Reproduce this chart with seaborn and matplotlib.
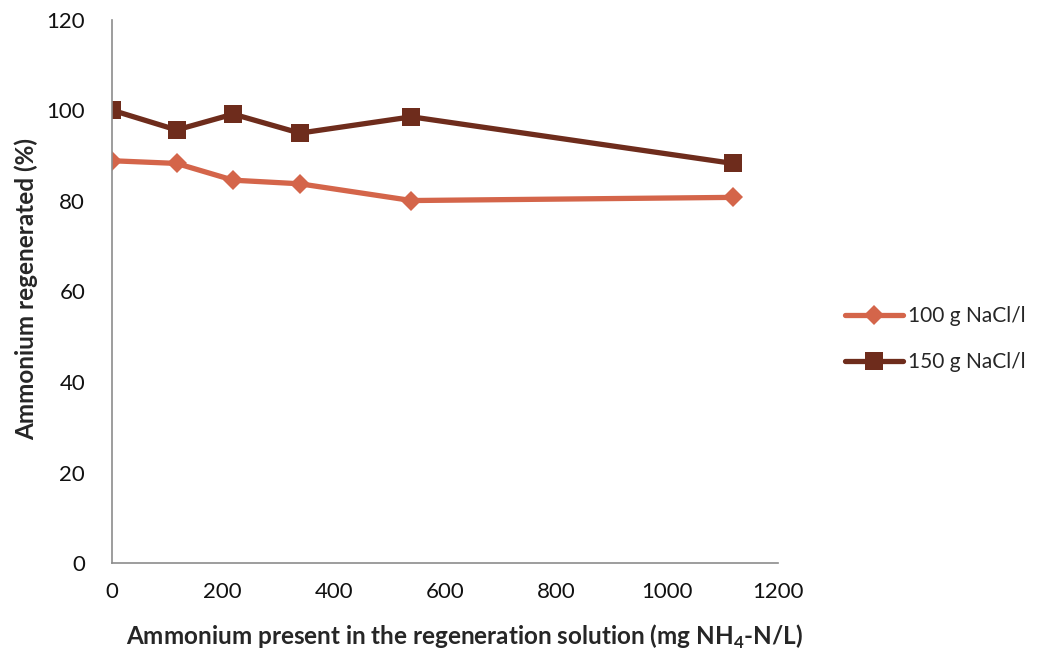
import matplotlib
matplotlib.use("Agg")
import matplotlib.pyplot as plt
import seaborn as sns
import pandas as pd

# Ammonium concentration in the regeneration solution (mg NH4-N/L)
ammonium_mg = [0, 117, 219, 339, 540, 1119]
# Ammonium regenerated (%) for each brine strength
regen_100 = [88.9, 88.3, 84.6, 83.8, 80.1, 80.8]
regen_150 = [100.1, 95.7, 99.2, 95.0, 98.6, 88.3]
series_names = ["100 g NaCl/l", "150 g NaCl/l"]
x_ticks = [0, 200, 400, 600, 800, 1000, 1200]
y_ticks = [0, 20, 40, 60, 80, 100, 120]

colors = {"100 g NaCl/l": "#D4654A", "150 g NaCl/l": "#6E2C1C"}
markers = {"100 g NaCl/l": "D", "150 g NaCl/l": "s"}
msizes = {"100 g NaCl/l": 10.5, "150 g NaCl/l": 13.5}

sns.set_theme(style="white")
plt.rcParams["font.family"] = ["Lato", "DejaVu Sans"]
plt.rcParams["mathtext.fontset"] = "custom"
plt.rcParams["mathtext.rm"] = "Lato"
plt.rcParams["mathtext.bf"] = "Lato:bold"

df = pd.concat([
    pd.DataFrame({"x": ammonium_mg, "y": regen_100, "series": series_names[0]}),
    pd.DataFrame({"x": ammonium_mg, "y": regen_150, "series": series_names[1]}),
])

fig = plt.figure(figsize=(10.38, 6.53), dpi=100)
ax = fig.add_axes([0.1075, 0.1378, 0.642, 0.8316])

for name in series_names:
    sub = df[df["series"] == name]
    sns.lineplot(data=sub, x="x", y="y", ax=ax, color=colors[name],
                 marker=markers[name], markersize=msizes[name],
                 markeredgewidth=0, linewidth=3.8, label=name)

ax.set_xlim(0, 1200)
ax.set_ylim(0, 120)
ax.set_xticks(x_ticks)
ax.set_yticks(y_ticks)
ax.tick_params(axis="both", labelsize=16, length=0, colors="#111111")
ax.tick_params(axis="y", pad=19)
ax.tick_params(axis="x", pad=14)

for side in ["top", "right"]:
    ax.spines[side].set_visible(False)
for side in ["left", "bottom"]:
    ax.spines[side].set_color("#8C8C8C")
    ax.spines[side].set_linewidth(1.2)

ax.set_xlabel(r"Ammonium present in the regeneration solution (mg NH$_\mathbf{4}$-N/L)",
              fontsize=17.5, fontweight="bold")
ax.set_ylabel("Ammonium regenerated (%)", fontsize=17.5, fontweight="bold")
ax.xaxis.set_label_coords(0.53, -0.136)
ax.yaxis.set_label_coords(-0.128, 0.505)
ax.xaxis.label.set_va("center")
ax.yaxis.label.set_va("center")

leg = ax.legend(loc="center left", bbox_to_anchor=(1.072, 0.4125), frameon=False,
                fontsize=15, handlelength=2.8, handletextpad=0.25, labelspacing=1.25)

fig.savefig("out.png", dpi=100)
